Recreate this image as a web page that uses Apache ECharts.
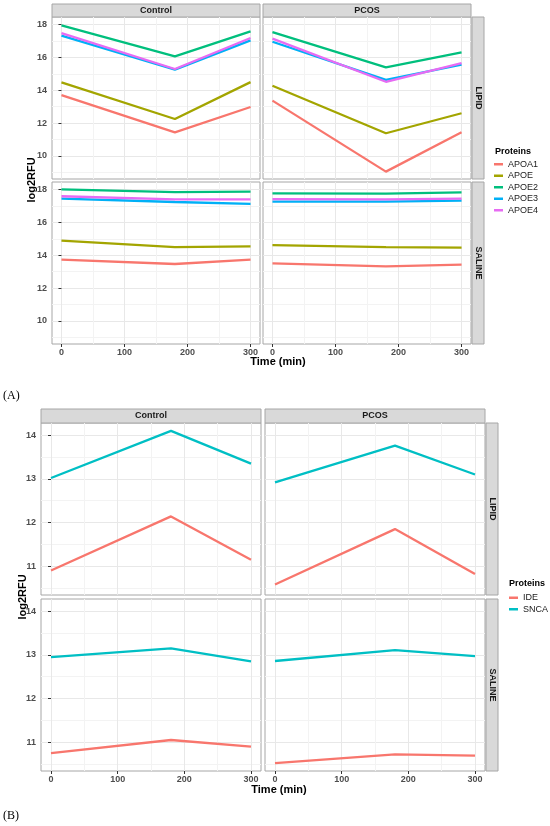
<!DOCTYPE html>
<html>
<head>
<meta charset="utf-8">
<script src="https://cdn.jsdelivr.net/npm/echarts@6/dist/echarts.min.js"></script>
<style>html,body{margin:0;padding:0;background:#fff}#main{width:550px;height:826px}</style>
</head>
<body>
<div id="main"></div>
<script>
// time points and facet labels
var times = [0, 180, 300];
var proteinsA = ['APOA1', 'APOE', 'APOE2', 'APOE3', 'APOE4'];
var proteinsB = ['IDE', 'SNCA'];
var colorsA = ['#F8766D', '#A3A500', '#00BF7D', '#00B0F6', '#E76BF3'];
var colorsB = ['#F8766D', '#00BFC4'];
var xTicks = [0, 100, 200, 300];
var xMinor = [50, 150, 250];
var yTicksA = [10, 12, 14, 16, 18];
var yMinorA = [9, 11, 13, 15, 17];
var yTicksB = [11, 12, 13, 14];
var yMinorB = [10.5, 11.5, 12.5, 13.5];

// (A) rows follow proteinsA order, columns follow times
var aControlLipid = [[13.71, 11.43, 12.98], [14.48, 12.25, 14.50], [17.96, 16.07, 17.59], [17.33, 15.26, 17.04], [17.49, 15.30, 17.19]];
var aPcosLipid = [[13.37, 9.04, 11.44], [14.28, 11.38, 12.60], [17.55, 15.40, 16.31], [16.96, 14.63, 15.56], [17.15, 14.52, 15.66]];
var aControlSaline = [[13.73, 13.47, 13.73], [14.89, 14.50, 14.54], [18.02, 17.85, 17.88], [17.45, 17.25, 17.13], [17.60, 17.41, 17.41]];
var aPcosSaline = [[13.51, 13.33, 13.43], [14.62, 14.50, 14.47], [17.78, 17.76, 17.84], [17.27, 17.27, 17.33], [17.43, 17.41, 17.45]];

// (B) rows follow proteinsB order
var bControlLipid = [[10.90, 12.14, 11.15], [13.02, 14.10, 13.35]];
var bPcosLipid = [[10.58, 11.85, 10.82], [12.92, 13.76, 13.10]];
var bControlSaline = [[10.75, 11.05, 10.90], [12.95, 13.15, 12.85]];
var bPcosSaline = [[10.52, 10.72, 10.69], [12.86, 13.11, 12.97]];

var FONT = 'Liberation Sans, Arial, sans-serif';
var BORDER = '#a6a6a6';

var panels = [
  {left: 52, top: 17, w: 208, h: 162, vals: aControlLipid, names: proteinsA, colors: colorsA, yr: [8.59, 18.47], yt: yTicksA, ym: yMinorA, first: true, bottom: false},
  {left: 263, top: 17, w: 208, h: 162, vals: aPcosLipid, names: proteinsA, colors: colorsA, yr: [8.59, 18.47], yt: yTicksA, ym: yMinorA, first: false, bottom: false},
  {left: 52, top: 182, w: 208, h: 162, vals: aControlSaline, names: proteinsA, colors: colorsA, yr: [8.59, 18.47], yt: yTicksA, ym: yMinorA, first: true, bottom: true},
  {left: 263, top: 182, w: 208, h: 162, vals: aPcosSaline, names: proteinsA, colors: colorsA, yr: [8.59, 18.47], yt: yTicksA, ym: yMinorA, first: false, bottom: true},
  {left: 41, top: 423, w: 220, h: 172, vals: bControlLipid, names: proteinsB, colors: colorsB, yr: [10.34, 14.28], yt: yTicksB, ym: yMinorB, first: true, bottom: false},
  {left: 265, top: 423, w: 220, h: 172, vals: bPcosLipid, names: proteinsB, colors: colorsB, yr: [10.34, 14.28], yt: yTicksB, ym: yMinorB, first: false, bottom: false},
  {left: 41, top: 599, w: 220, h: 172, vals: bControlSaline, names: proteinsB, colors: colorsB, yr: [10.34, 14.28], yt: yTicksB, ym: yMinorB, first: true, bottom: true},
  {left: 265, top: 599, w: 220, h: 172, vals: bPcosSaline, names: proteinsB, colors: colorsB, yr: [10.34, 14.28], yt: yTicksB, ym: yMinorB, first: false, bottom: true}
];

var grids = [], xAxes = [], yAxes = [], series = [];
var tickLabel = {color: '#4d4d4d', fontSize: 9, fontWeight: 'bold', fontFamily: FONT};

panels.forEach(function (p, i) {
  grids.push({left: p.left, top: p.top, width: p.w, height: p.h, show: true,
    backgroundColor: '#fff', borderColor: BORDER, borderWidth: 1});
  // major x
  xAxes.push({gridIndex: i, type: 'value', min: -15, max: 315,
    axisLine: {show: false},
    axisTick: {show: p.bottom, customValues: xTicks, length: 3, lineStyle: {color: '#333'}},
    axisLabel: Object.assign({show: p.bottom, customValues: xTicks, margin: 4}, tickLabel),
    splitLine: {show: true, lineStyle: {color: '#e8e8e8', width: 1}}});
  // minor x
  xAxes.push({gridIndex: i, type: 'value', min: -15, max: 315,
    axisLine: {show: false},
    axisTick: {show: false, customValues: xMinor},
    axisLabel: {show: false, customValues: xMinor},
    splitLine: {show: true, lineStyle: {color: '#f3f3f3', width: 1}}});
  yAxes.push({gridIndex: i, type: 'value', min: p.yr[0], max: p.yr[1],
    axisLine: {show: false},
    axisTick: {show: p.first, customValues: p.yt, length: 3, lineStyle: {color: '#333'}},
    axisLabel: Object.assign({show: p.first, customValues: p.yt, margin: 5}, tickLabel),
    splitLine: {show: true, lineStyle: {color: '#e8e8e8', width: 1}}});
  yAxes.push({gridIndex: i, type: 'value', min: p.yr[0], max: p.yr[1],
    axisLine: {show: false},
    axisTick: {show: false, customValues: p.ym},
    axisLabel: {show: false, customValues: p.ym},
    splitLine: {show: true, lineStyle: {color: '#f3f3f3', width: 1}}});
  p.vals.forEach(function (row, k) {
    series.push({
      name: p.names[k], type: 'line', xAxisIndex: 2 * i, yAxisIndex: 2 * i,
      data: times.map(function (t, j) { return [t, row[j]]; }),
      symbol: 'none', silent: true, color: p.colors[k],
      lineStyle: {width: 2.3, color: p.colors[k]}
    });
  });
});

// facet strips
function strip(x, y, w, h, label, vertical) {
  return {type: 'group', children: [
    {type: 'rect', shape: {x: x, y: y, width: w, height: h},
      style: {fill: '#d9d9d9', stroke: BORDER, lineWidth: 1}},
    {type: 'text', x: x + w / 2, y: y + h / 2, rotation: vertical ? -Math.PI / 2 : 0,
      style: {text: label, fill: '#1a1a1a', font: 'bold 9px ' + FONT, align: 'center', verticalAlign: 'middle'}}
  ]};
}
function txt(x, y, s, font, rot, align) {
  return {type: 'text', x: x, y: y, rotation: rot || 0,
    style: {text: s, fill: '#000', font: font, align: align || 'center', verticalAlign: 'middle'}};
}

var graphics = [
  strip(52, 4, 208, 13, 'Control'), strip(263, 4, 208, 13, 'PCOS'),
  strip(472, 17, 12, 162, 'LIPID', true), strip(472, 182, 12, 162, 'SALINE', true),
  strip(41, 409, 220, 14, 'Control'), strip(265, 409, 220, 14, 'PCOS'),
  strip(486, 423, 12, 172, 'LIPID', true), strip(486, 599, 12, 172, 'SALINE', true),
  txt(32, 180, 'log2RFU', 'bold 11px ' + FONT, Math.PI / 2),
  txt(23, 597, 'log2RFU', 'bold 11px ' + FONT, Math.PI / 2),
  txt(278, 362, 'Time (min)', 'bold 11px ' + FONT),
  txt(279, 790, 'Time (min)', 'bold 11px ' + FONT),
  txt(495, 152, 'Proteins', 'bold 9px ' + FONT, 0, 'left'),
  txt(509, 584, 'Proteins', 'bold 9px ' + FONT, 0, 'left'),
  txt(3, 396, '(A)', '12px Liberation Serif, Times New Roman, serif', 0, 'left'),
  txt(3, 816, '(B)', '12px Liberation Serif, Times New Roman, serif', 0, 'left')
];

var legendBase = {orient: 'vertical', icon: 'rect', itemWidth: 9, itemHeight: 2.5, itemGap: 0,
  padding: 0, selectedMode: false,
  textStyle: {fontSize: 9, lineHeight: 11.5, color: '#1a1a1a', fontFamily: FONT}};

var myChart = echarts.init(document.getElementById('main'));
myChart.setOption({
  animation: false,
  backgroundColor: '#fff',
  grid: grids,
  xAxis: xAxes,
  yAxis: yAxes,
  legend: [
    Object.assign({data: proteinsA, left: 494, top: 158.5}, legendBase),
    Object.assign({data: proteinsB, left: 509, top: 592}, legendBase)
  ],
  graphic: graphics,
  series: series
});
</script>
</body>
</html>
